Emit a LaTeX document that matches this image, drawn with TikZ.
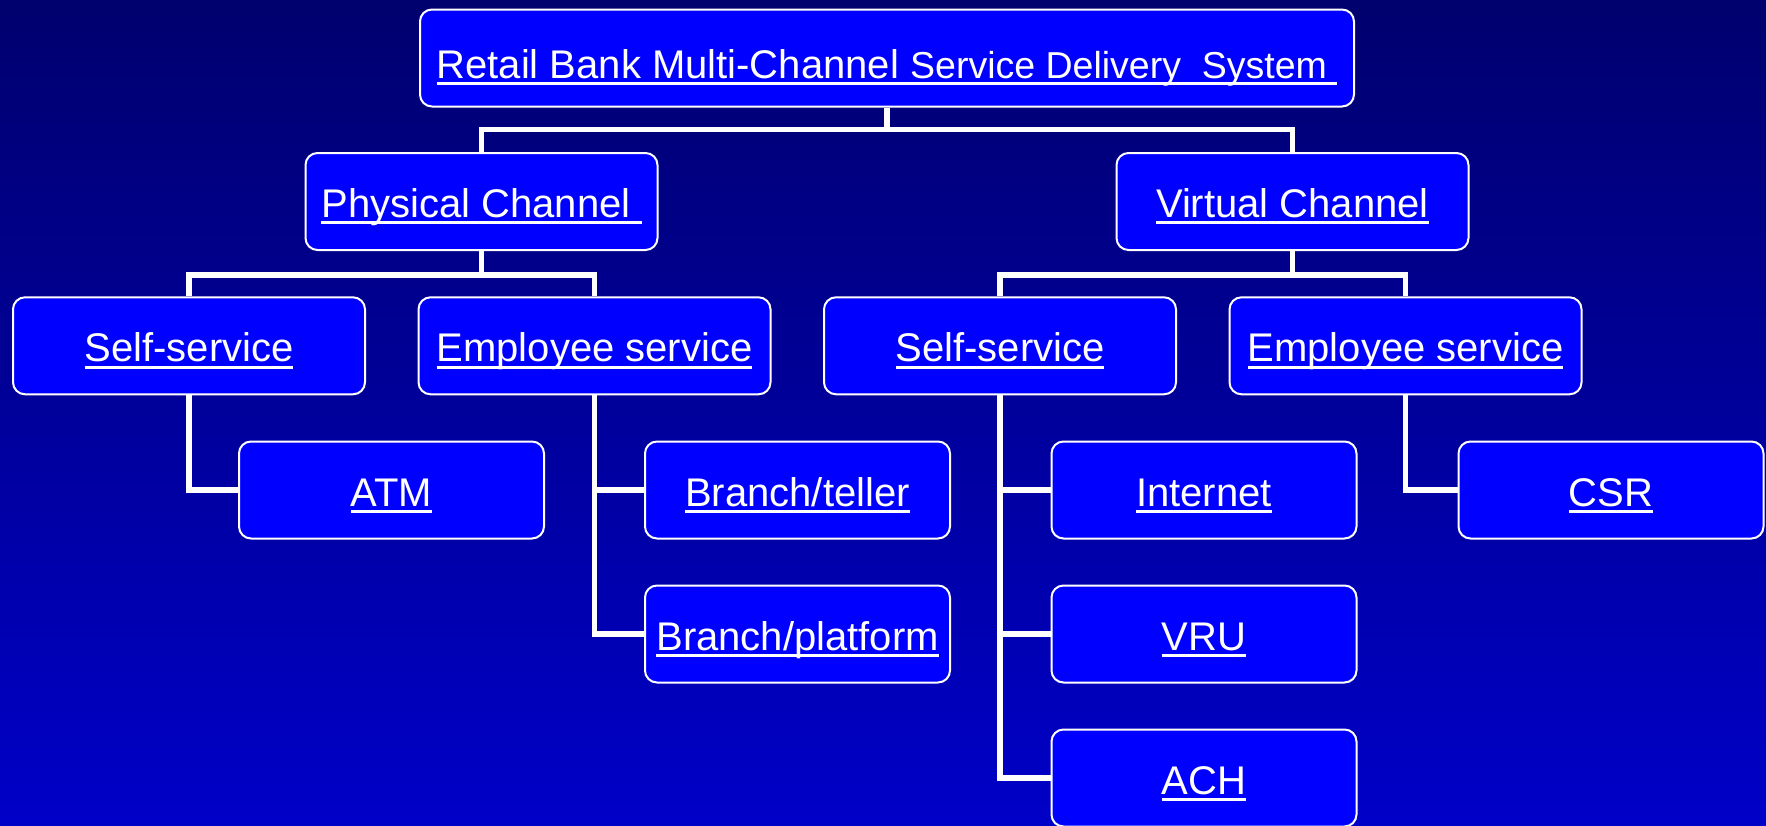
\documentclass[tikz,border=0pt]{standalone}
\usepackage{fontspec}
\setmainfont{Liberation Sans}
\usetikzlibrary{calc}
\definecolor{bgtop}{RGB}{0,0,110}
\definecolor{bgbot}{RGB}{0,0,200}
\definecolor{boxfill}{RGB}{0,0,255}
\newcommand\myul[1]{\setbox0\hbox{#1}\rlap{\rule[-0.17em]{\wd0}{0.075em}}\box0}
\pgfdeclarelayer{bg}
\pgfdeclarelayer{links}
\pgfsetlayers{bg,links,main}
\tikzset{
  box/.style={draw=white, line width=1pt, fill=boxfill, rounded corners=6pt,
    text=white, inner sep=0pt, minimum height=48.5pt,
    font=\fontsize{20pt}{24pt}\selectfont, text height=16pt, text depth=0pt},
  wide/.style={box, minimum width=176pt},
  narrow/.style={box, minimum width=152.5pt},
  conn/.style={draw=white, line width=2.75pt}
}
\begin{document}
\begin{tikzpicture}[x=0.5pt,y=-0.5pt]
\useasboundingbox (0,0) rectangle (1766,825);
\begin{pgfonlayer}{bg}
\shade[top color=bgtop, bottom color=bgbot] (0,0) rectangle (1766,825);
\end{pgfonlayer}
% row 1
\node[box, minimum width=467pt, text height=20pt] (top) at (887,58)
  {\myul{Retail Bank Multi-Channel {\fontsize{18.75pt}{22pt}\selectfont Service Delivery\ \ System\ }}};
% row 2
\node[wide] (phys) at (481.5,201.5) {\myul{Physical Channel\ }};
\node[wide] (virt) at (1292.5,201.5) {\myul{Virtual Channel}};
% row 3
\node[wide] (ssl) at (189,345.8) {\myul{Self-service}};
\node[wide] (esl) at (594.5,345.8) {\myul{Employee service}};
\node[wide] (ssr) at (1000,345.8) {\myul{Self-service}};
\node[wide] (esr) at (1405.5,345.8) {\myul{Employee service}};
% row 4
\node[narrow] (atm) at (391.5,490) {\myul{ATM}};
\node[narrow] (teller) at (797.5,490) {\myul{Branch/teller}};
\node[narrow] (inet) at (1204,490) {\myul{Internet}};
\node[narrow] (csr) at (1611,490) {\myul{CSR}};
% row 5
\node[narrow] (plat) at (797.5,634) {\myul{Branch/platform}};
\node[narrow] (vru) at (1204,634) {\myul{VRU}};
% row 6
\node[narrow] (ach) at (1204,778) {\myul{ACH}};
\begin{pgfonlayer}{links}
\draw[conn] (top.south) -- ++(0,22) coordinate (tb);
\draw[conn] (phys.north) |- (tb) -| (virt.north);
\draw[conn] (phys.south) -- ++(0,24) coordinate (pb);
\draw[conn] (ssl.north) |- (pb) -| (esl.north);
\draw[conn] (virt.south) -- ++(0,24) coordinate (vb);
\draw[conn] (ssr.north) |- (vb) -| (esr.north);
\draw[conn] (ssl.south) |- (atm.west);
\draw[conn] (esl.south) |- (plat.west);
\draw[conn] (esl.south |- teller.west) -- (teller.west);
\draw[conn] (ssr.south) |- (ach.west);
\draw[conn] (ssr.south |- inet.west) -- (inet.west);
\draw[conn] (ssr.south |- vru.west) -- (vru.west);
\draw[conn] (esr.south) |- (csr.west);
\end{pgfonlayer}
\end{tikzpicture}
\end{document}
